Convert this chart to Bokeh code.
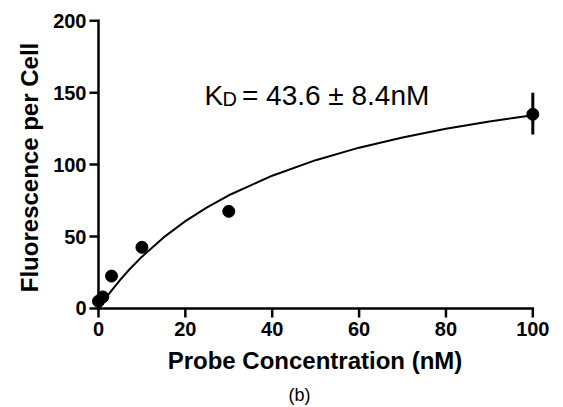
import math
from bokeh.plotting import figure
from bokeh.models import Range1d, Label, Title, FixedTicker
from bokeh.embed import file_html
from bokeh.resources import INLINE

# measured data (probe concentration nM, fluorescence per cell)
conc = [0, 1, 3, 10, 30, 100]
fluor = [5, 8, 22.5, 42.5, 67.5, 135]
# error bar (only visible one, at 100 nM)
err_conc = [100]
err_low = [121]
err_high = [150]
# fitted binding curve
fit_x = [0, 1, 2, 3, 5, 7, 10, 15, 20, 25, 30, 40, 50, 60, 70, 80, 90, 100]
fit_y = [0, 4.3, 8.5, 12.4, 19.9, 26.7, 36.0, 49.4, 60.7, 70.3, 78.7, 92.3,
         103.1, 111.8, 118.9, 124.9, 130.0, 134.4]
x_ticks = [0, 20, 40, 60, 80, 100]
y_ticks = [0, 50, 100, 150, 200]

FONT = "Liberation Sans"

p = figure(frame_width=453, frame_height=302,
           x_range=Range1d(-2.3, 102), y_range=Range1d(-7, 203),
           output_backend="svg", toolbar_location=None,
           min_border_left=88, min_border_top=16, min_border_right=8,
           min_border_bottom=0)
p.background_fill_color = "white"
p.border_fill_color = "white"
p.outline_line_color = None
p.grid.visible = False

for ax, ticks, lab in ((p.xaxis, x_ticks, "Probe Concentration (nM)"),
                       (p.yaxis, y_ticks, "Fluorescence per Cell")):
    ax.ticker = FixedTicker(ticks=ticks)
    ax.axis_label = lab
    ax.axis_line_color = None
    ax.major_tick_line_color = None
    ax.major_tick_out = 0
    ax.major_tick_in = 0
    ax.minor_tick_line_color = None
    ax.major_label_text_font = FONT
    ax.major_label_text_font_size = "20px"
    ax.major_label_text_font_style = "bold"
    ax.major_label_text_color = "black"
    ax.axis_label_text_font = FONT
    ax.axis_label_text_font_size = "24px"
    ax.axis_label_text_font_style = "bold"
    ax.axis_label_text_color = "black"
p.xaxis.major_label_standoff = 3
p.yaxis.major_label_standoff = 2
p.xaxis.axis_label_standoff = 8
p.yaxis.axis_label_standoff = 7

# axis lines and outward ticks, drawn at the data origin
x0, y0 = x_ticks[0], y_ticks[0]
p.segment(x0=[x_ticks[0], x0], y0=[y0, y_ticks[0]],
          x1=[x_ticks[-1], x0], y1=[y0, y_ticks[-1]],
          line_color="black", line_width=2.5, line_cap="square")
p.ray(x=x_ticks, y=[y0] * len(x_ticks), length=9, length_units="screen",
      angle=-math.pi / 2, line_color="black", line_width=2.5)
p.ray(x=[x0] * len(y_ticks), y=y_ticks, length=9, length_units="screen",
      angle=math.pi, line_color="black", line_width=2.5)

p.line(fit_x, fit_y, line_color="black", line_width=2)
p.segment(x0=err_conc, y0=err_low, x1=err_conc, y1=err_high,
          line_color="black", line_width=3)
p.scatter(conc, fluor, size=12, fill_color="black", line_color="black")

kx, ky = 24.4, 147.8
p.add_layout(Label(x=kx, y=ky, text="K", text_font=FONT, text_font_size="28px",
                   text_color="black", text_baseline="alphabetic"))
p.add_layout(Label(x=kx, y=ky, x_offset=18, y_offset=-3, text="D", text_font=FONT,
                   text_font_size="20px", text_color="black", text_baseline="alphabetic"))
p.add_layout(Label(x=kx, y=ky, x_offset=37.5, text="= 43.6 \u00b1 8.4nM", text_font=FONT,
                   text_font_size="28px", text_color="black", text_baseline="alphabetic"))

p.add_layout(Title(text="(b)", align="left", offset=200, standoff=12, text_font=FONT,
                   text_font_size="18px", text_font_style="normal",
                   text_color="black"), "below")

open("out.html", "w").write(file_html(p, INLINE))
